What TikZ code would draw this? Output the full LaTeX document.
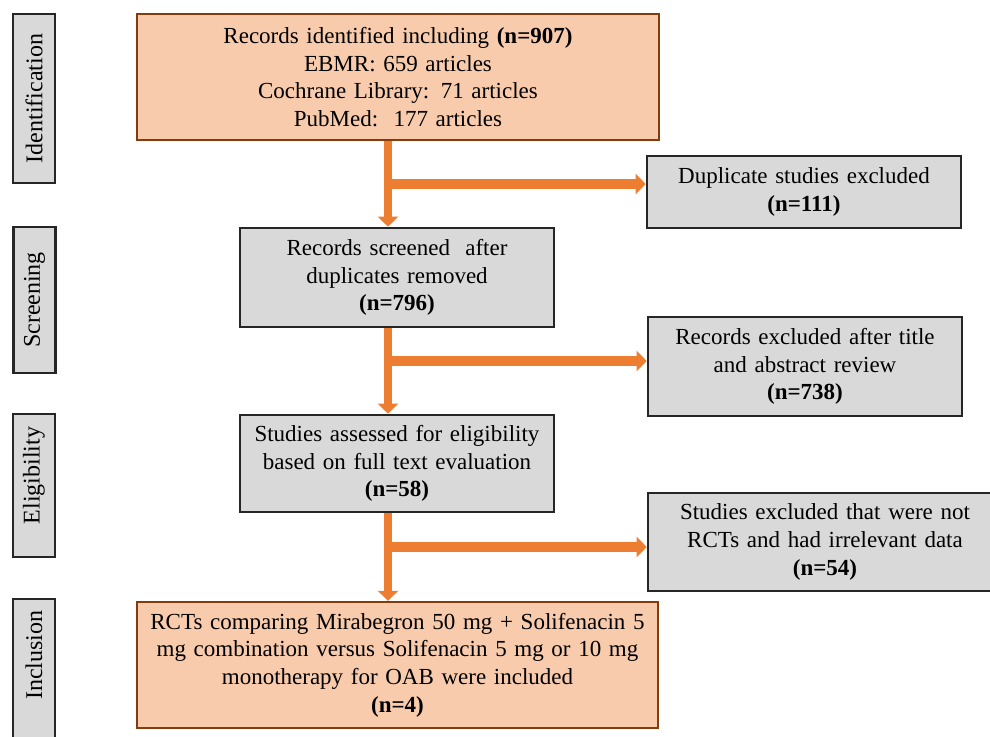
\documentclass[tikz,border=0pt]{standalone}
\usepackage{fontspec}
\setmainfont{Liberation Serif}
\usetikzlibrary{shapes, arrows.meta, positioning}
\definecolor{peach}{HTML}{F8CBAD}
\definecolor{rust}{HTML}{843C0C}
\definecolor{boxgray}{HTML}{D9D9D9}
\definecolor{flowor}{HTML}{ED7D31}

\begin{document}
\begin{tikzpicture}[
	x=0.5pt, y=-0.5pt,
	font=\fontsize{11.5}{13.8}\selectfont,
	MainNode/.style={rectangle, draw=rust, line width=1.2pt, fill=peach,
		text centered, inner sep=0pt},
	ExclNode/.style={rectangle, draw=black!85, line width=1.3pt, fill=boxgray,
		text centered, inner sep=0pt},
	StageNode/.style={rectangle, draw=black!85, line width=1.3pt, fill=boxgray,
		rotate=90, minimum height=21pt, inner sep=0pt,
		font=\fontsize{12}{14}\selectfont},
	FlowArrow/.style={draw=flowor, line width=3.8pt,
		-{Triangle[width=10pt, length=5pt]}}
	]
\useasboundingbox (0,0) rectangle (990,737);

% stage labels
\node [StageNode, minimum width=84.5pt] (stident) at (34,98.5) {Identification};
\node [StageNode, minimum width=73pt] (stscreen) at (34.5,300) {Screening};
\node [StageNode, minimum width=71.5pt] (stelig) at (34,485.5) {\hspace*{10pt}Eligibility};
\node [StageNode, minimum width=75pt] (stincl) at (34,674) {\hspace*{19pt}Inclusion};

% main flow
\node [MainNode, minimum width=261pt, minimum height=63pt, text width=250pt] (ident) at (398,77)
	{Records identified including \textbf{(n=907)}\\ EBMR: 659 articles\\
	 Cochrane Library: 71 articles\\ PubMed:\ \ 177 articles};
\node [ExclNode, minimum width=157pt, minimum height=49.5pt, text width=150pt] (screen) at (397,277.5)
	{Records screened\ \ after\\ duplicates removed\\ \textbf{(n=796)}};
\node [ExclNode, minimum width=157pt, minimum height=48.5pt, text width=150pt] (elig) at (397,463.5)
	{Studies assessed for eligibility\\ based on full text evaluation\\ \textbf{(n=58)}};
\node [MainNode, minimum width=260.5pt, minimum height=63pt, text width=250pt] (incl) at (397.5,665)
	{RCTs comparing Mirabegron 50 mg + Solifenacin 5\\ mg combination versus Solifenacin 5 mg or 10 mg\\
	 monotherapy for OAB were included\\ \textbf{(n=4)}};

% exclusions
\node [ExclNode, minimum width=157pt, minimum height=36pt, text width=150pt] (dup) at (804,192)
	{Duplicate studies excluded\\ \textbf{(n=111)}};
\node [ExclNode, minimum width=157pt, minimum height=49.5pt, text width=150pt] (recexcl) at (805,366.5)
	{Records excluded after title\\ and abstract review\\ \textbf{(n=738)}};
\node [ExclNode, minimum width=177pt, minimum height=49pt, text width=165pt] (studexcl) at (825,542)
	{Studies excluded that were not\\ RCTs and had irrelevant data\\ \textbf{(n=54)}};

% arrows
\coordinate (spine) at (388,0);
\coordinate (fork1) at (388,184);
\coordinate (fork2) at (388,361);
\coordinate (fork3) at (388,547);
\draw [FlowArrow] (ident.south -| spine) -- (screen.north -| spine);
\draw [FlowArrow] (screen.south -| spine) -- (elig.north -| spine);
\draw [FlowArrow] (elig.south -| spine) -- (incl.north -| spine);
\draw [FlowArrow, line width=5pt] (fork1) -- (fork1 -| dup.west);
\draw [FlowArrow, line width=5pt] (fork2) -- (fork2 -| recexcl.west);
\draw [FlowArrow, line width=5pt] (fork3) -- (fork3 -| studexcl.west);

\end{tikzpicture}
\end{document}
